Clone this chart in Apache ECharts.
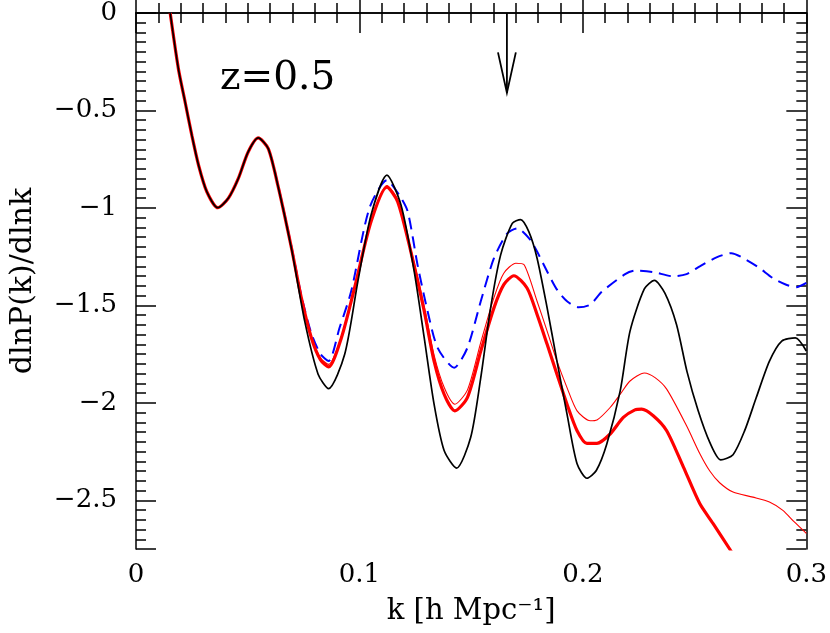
<!DOCTYPE html>
<html><head><meta charset="utf-8">
<script src="https://cdn.jsdelivr.net/npm/echarts@6/dist/echarts.min.js"></script>
<style>html,body{margin:0;padding:0;background:#fff}#c{width:830px;height:633px}</style>
</head><body><div id="c"></div>
<script>
// shared low-k part (all curves coincide)
const kCommon = [0.0153, 0.019, 0.022, 0.025, 0.028, 0.0317, 0.0366, 0.0413, 0.0458, 0.0502, 0.0547, 0.0592];
const vCommon = [0.0, -0.288, -0.458, -0.628, -0.781, -0.917, -0.999, -0.951, -0.849, -0.713, -0.641, -0.696];

const kBlack = [0.0636, 0.0696, 0.0755, 0.0815, 0.0862, 0.0934, 0.0993, 0.1052, 0.1123, 0.1186, 0.1245, 0.129, 0.1334, 0.1379, 0.1435, 0.1498, 0.1543, 0.1587, 0.1632, 0.1684, 0.1721, 0.1758, 0.1795, 0.184, 0.1884, 0.1929, 0.1974, 0.2018, 0.206, 0.2107, 0.2167, 0.2211, 0.2275, 0.232, 0.2367, 0.2419, 0.2466, 0.2516, 0.2568, 0.2617, 0.2672, 0.2724, 0.2776, 0.2835, 0.289, 0.2951, 0.3];
const vBlack = [-0.89, -1.21, -1.581, -1.853, -1.927, -1.751, -1.377, -1.036, -0.832, -0.985, -1.326, -1.667, -2.007, -2.245, -2.335, -2.177, -1.871, -1.513, -1.241, -1.079, -1.06, -1.122, -1.258, -1.513, -1.786, -2.058, -2.313, -2.387, -2.347, -2.211, -1.939, -1.632, -1.416, -1.372, -1.437, -1.598, -1.84, -2.041, -2.203, -2.293, -2.266, -2.143, -1.973, -1.786, -1.683, -1.667, -1.734];

const kRedThick = [0.0636, 0.0696, 0.074, 0.0785, 0.0826, 0.0862, 0.0919, 0.0978, 0.1052, 0.1123, 0.1171, 0.123, 0.129, 0.1334, 0.1379, 0.1427, 0.1483, 0.1543, 0.1602, 0.1646, 0.1691, 0.175, 0.1795, 0.184, 0.1884, 0.1929, 0.1974, 0.2018, 0.2063, 0.2122, 0.2181, 0.2233, 0.2263, 0.2315, 0.2375, 0.245, 0.2523, 0.2583, 0.2657, 0.27];
const vRedThick = [-0.89, -1.207, -1.462, -1.667, -1.78, -1.816, -1.667, -1.411, -1.07, -0.893, -0.968, -1.224, -1.53, -1.786, -1.956, -2.041, -1.973, -1.735, -1.513, -1.394, -1.348, -1.411, -1.547, -1.70, -1.853, -2.007, -2.143, -2.208, -2.208, -2.16, -2.075, -2.036, -2.032, -2.066, -2.143, -2.33, -2.517, -2.62, -2.75, -2.83];

const kRedThin = [0.0636, 0.0696, 0.074, 0.0785, 0.0826, 0.0862, 0.0919, 0.0978, 0.1052, 0.1123, 0.1171, 0.123, 0.129, 0.1334, 0.1379, 0.1427, 0.1483, 0.1543, 0.1602, 0.1646, 0.17, 0.1737, 0.1795, 0.184, 0.1884, 0.1929, 0.1974, 0.2033, 0.2063, 0.2122, 0.2167, 0.2211, 0.2275, 0.2323, 0.2375, 0.2464, 0.2523, 0.2568, 0.2612, 0.2672, 0.2761, 0.2835, 0.2895, 0.2945, 0.3];
const vRedThin = [-0.89, -1.205, -1.458, -1.66, -1.77, -1.803, -1.66, -1.405, -1.065, -0.885, -0.96, -1.212, -1.505, -1.755, -1.92, -2.007, -1.935, -1.69, -1.46, -1.335, -1.284, -1.292, -1.479, -1.632, -1.786, -1.922, -2.041, -2.092, -2.088, -2.024, -1.956, -1.888, -1.847, -1.871, -1.93, -2.118, -2.26, -2.35, -2.41, -2.458, -2.484, -2.509, -2.552, -2.61, -2.67];

const kBlue = [0.0636, 0.0696, 0.074, 0.0785, 0.0826, 0.0862, 0.0911, 0.0963, 0.1044, 0.1123, 0.1178, 0.1216, 0.126, 0.1305, 0.135, 0.1424, 0.1483, 0.1543, 0.1602, 0.1662, 0.1706, 0.1765, 0.1795, 0.184, 0.1884, 0.1929, 0.1981, 0.2033, 0.2085, 0.2189, 0.2233, 0.2315, 0.2404, 0.2464, 0.2523, 0.2598, 0.2664, 0.2731, 0.2791, 0.285, 0.291, 0.2955, 0.3];
const vBlue = [-0.885, -1.2, -1.45, -1.645, -1.75, -1.786, -1.615, -1.428, -1.003, -0.858, -0.934, -1.019, -1.292, -1.53, -1.718, -1.82, -1.718, -1.479, -1.258, -1.13, -1.105, -1.164, -1.224, -1.326, -1.419, -1.479, -1.51, -1.496, -1.43, -1.34, -1.322, -1.329, -1.351, -1.34, -1.30, -1.254, -1.232, -1.266, -1.309, -1.36, -1.394, -1.407, -1.385];

// arrow marker (k position and its extent in y)
const arrowK = 0.166, arrowTipV = -0.41, arrowHeadV = -0.202, arrowHalfW = 0.004;

const xTicks = [0, 0.1, 0.2, 0.3];
const yLabelValues = [0, 0.5, 1, 1.5, 2, 2.5];

const FONT = 'DejaVu Serif';
const pts = (ks, vs) => kCommon.map((k, i) => [k, vCommon[i]]).concat(ks.map((k, i) => [k, vs[i]]));

const chart = echarts.init(document.getElementById('c'), null, {renderer: 'canvas'});
const axLine = {show: true, lineStyle: {color: '#000', width: 1.5}};
const tickStyle = {color: '#000', width: 1.5};
const xBase = (pos, labels) => ({
  type: 'value', min: 0, max: 0.3, interval: 0.1, position: pos,
  axisLine: axLine,
  axisTick: {show: true, inside: true, length: 20, lineStyle: tickStyle},
  minorTick: {show: true, splitNumber: 10, length: 10, lineStyle: tickStyle},
  splitLine: {show: false}, minorSplitLine: {show: false},
  axisLabel: {show: labels, color: '#000', fontFamily: FONT, fontSize: 26, margin: 13,
    formatter: v => (xTicks.includes(+v.toFixed(3)) ? String(+v.toFixed(3)) : '')},
  name: labels ? 'k [h Mpc\u207B\u00B9]' : '', nameLocation: 'middle', nameGap: 48,
  nameTextStyle: {color: '#000', fontFamily: FONT, fontSize: 29}
});
const yMinor = (pos) => ({
  type: 'value', min: -2.75, max: 0, interval: 0.05, position: pos,
  axisLine: axLine,
  axisTick: {show: true, inside: true, length: 10, lineStyle: tickStyle},
  axisLabel: {show: false}, splitLine: {show: false}
});
const yMajor = (pos, labels) => ({
  type: 'value', min: 0, max: 2.75, interval: 0.5, inverse: true, position: pos,
  axisLine: {show: false},
  axisTick: {show: true, inside: true, length: 20, lineStyle: tickStyle},
  splitLine: {show: false},
  axisLabel: {show: labels, color: '#000', fontFamily: FONT, fontSize: 26, margin: 19,
    formatter: v => { const r = +v.toFixed(3); if (!yLabelValues.includes(r)) return ''; return r === 0 ? '0' : '\u2212' + r; }},
  name: labels ? 'dlnP(k)/dlnk' : '', nameLocation: 'middle', nameGap: 98, nameRotate: 90,
  nameTextStyle: {color: '#000', fontFamily: FONT, fontSize: 30}
});

const lineS = (data, color, width, type, z) => ({
  type: 'line', data, xAxisIndex: 0, yAxisIndex: 0, showSymbol: false, symbol: 'none',
  smooth: 0.25, clip: true, silent: true, z,
  lineStyle: {color, width, type, cap: 'butt'}
});

chart.setOption({
  animation: false,
  backgroundColor: '#fff',
  grid: {left: 134, top: 10, right: 23, bottom: 84},
  xAxis: [xBase('bottom', true), xBase('top', false)],
  yAxis: [yMinor('left'), yMajor('left', true), yMinor('right'), yMajor('right', false)],
  graphic: [{type: 'text', left: 220, top: 59, style: {text: 'z=0.5', font: '39px "DejaVu Serif"', fill: '#000'}}],
  series: [
    lineS(pts(kBlue, vBlue), '#0000ff', 2, [12, 7], 2),
    lineS(pts(kRedThick, vRedThick), '#ff0000', 3.2, 'solid', 3),
    lineS(pts(kRedThin, vRedThin), '#ff0000', 1.1, 'solid', 4),
    lineS(pts(kBlack, vBlack), '#000000', 1.7, 'solid', 5),
    {type: 'line', data: [[arrowK, 0], [arrowK, arrowTipV]], showSymbol: false, symbol: 'none', silent: true,
     lineStyle: {color: '#000', width: 1.8}, z: 6},
    {type: 'line', data: [[arrowK - arrowHalfW, arrowHeadV], [arrowK, arrowTipV], [arrowK + arrowHalfW, arrowHeadV]],
     showSymbol: false, symbol: 'none', silent: true, lineStyle: {color: '#000', width: 1.8, join: 'miter'}, z: 6}
  ]
});
</script></body></html>
